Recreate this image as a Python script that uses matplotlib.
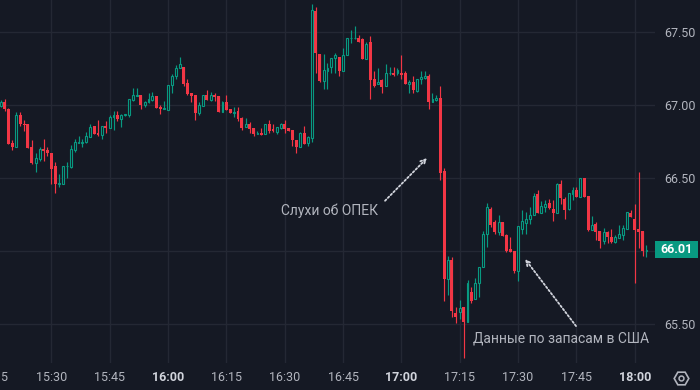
import matplotlib
matplotlib.use('Agg')
import matplotlib.pyplot as plt
import matplotlib.dates as mdates
import matplotlib.transforms as mtransforms
from matplotlib.patches import Rectangle
from matplotlib.lines import Line2D
import numpy as np
import pandas as pd

# ---------------- data (1-minute candles, first one at 15:17) ----------------
day = '2024-03-06'
start_time = day + ' 15:17'

opens = [66.993, 67.018, 66.975, 66.737, 66.714, 66.929, 66.870, 66.868, 66.712, 66.605,
         66.632, 66.698, 66.692, 66.671, 66.582, 66.461, 66.461, 66.579, 66.577, 66.692,
         66.741, 66.741, 66.744, 66.783, 66.856, 66.806, 66.794, 66.856, 66.844, 66.916,
         66.931, 66.906, 66.931, 66.929, 67.036, 67.063, 67.066, 67.002, 67.018, 67.036,
         67.061, 66.986, 66.970, 66.968, 67.135, 67.196, 67.251, 67.260, 67.150, 67.082,
         67.066, 66.947, 66.995, 67.066, 67.036, 67.070, 67.061, 66.954, 67.020, 66.972,
         66.948, 66.957, 66.911, 66.851, 66.870, 66.842, 66.803, 66.810, 66.803, 66.870,
         66.833, 66.817, 66.840, 66.870, 66.844, 66.829, 66.760, 66.714, 66.808, 66.737,
         66.776, 67.644, 67.349, 67.166, 67.233, 67.260, 67.320, 67.329, 67.235, 67.340,
         67.456, 67.456, 67.457, 67.452, 67.315, 67.431, 67.178, 67.146, 67.171, 67.132,
         67.216, 67.219, 67.217, 67.219, 67.219, 67.146, 67.159, 67.098, 67.176, 67.187,
         67.199, 67.022, 67.034, 67.048, 66.548, 65.808, 65.938, 65.573, 65.584, 65.616,
         65.515, 65.719, 65.671, 65.779, 65.892, 66.116, 66.287, 66.198, 66.132, 66.198,
         66.109, 66.011, 66.000, 65.863, 66.148, 66.194, 66.217, 66.244, 66.390, 66.262,
         66.303, 66.327, 66.285, 66.262, 66.461, 66.356, 66.289, 66.392, 66.418, 66.372,
         66.498, 66.376, 66.143, 66.185, 66.137, 66.071, 66.128, 66.094, 66.062, 66.091,
         66.110, 66.153, 66.260, 66.219, 66.150, 66.137, 66.002]
highs = [67.034, 67.039, 66.979, 66.760, 66.952, 66.952, 66.897, 66.870, 66.760, 66.669,
         66.714, 66.767, 66.714, 66.671, 66.609, 66.527, 66.582, 66.607, 66.726, 66.767,
         66.787, 66.765, 66.817, 66.870, 66.856, 66.897, 66.856, 66.890, 66.931, 66.957,
         66.959, 66.936, 66.938, 67.041, 67.116, 67.116, 67.066, 67.029, 67.080, 67.087,
         67.061, 66.999, 67.027, 67.135, 67.212, 67.274, 67.329, 67.260, 67.178, 67.082,
         67.066, 67.022, 67.066, 67.103, 67.089, 67.082, 67.061, 67.027, 67.068, 66.972,
         66.984, 66.984, 66.920, 66.913, 66.883, 66.842, 66.822, 66.844, 66.870, 66.897,
         66.870, 66.849, 66.877, 66.897, 66.844, 66.829, 66.760, 66.815, 66.856, 66.790,
         67.692, 67.671, 67.349, 67.349, 67.285, 67.320, 67.354, 67.329, 67.388, 67.459,
         67.514, 67.541, 67.479, 67.457, 67.433, 67.474, 67.233, 67.251, 67.178, 67.281,
         67.260, 67.260, 67.251, 67.342, 67.233, 67.171, 67.198, 67.178, 67.233, 67.233,
         67.212, 67.080, 67.068, 67.130, 66.568, 65.965, 65.961, 65.614, 65.664, 65.616,
         65.801, 65.755, 65.813, 65.892, 66.137, 66.326, 66.303, 66.212, 66.246, 66.198,
         66.116, 66.094, 66.000, 66.171, 66.281, 66.265, 66.299, 66.399, 66.418, 66.344,
         66.349, 66.356, 66.349, 66.468, 66.486, 66.372, 66.395, 66.440, 66.440, 66.498,
         66.498, 66.376, 66.240, 66.200, 66.137, 66.155, 66.139, 66.151, 66.110, 66.178,
         66.178, 66.267, 66.283, 66.322, 66.541, 66.137, 66.041]
lows = [66.988, 66.959, 66.733, 66.692, 66.714, 66.856, 66.824, 66.705, 66.596, 66.543,
        66.618, 66.618, 66.650, 66.459, 66.395, 66.440, 66.457, 66.502, 66.570, 66.680,
        66.737, 66.714, 66.737, 66.783, 66.803, 66.787, 66.769, 66.810, 66.844, 66.831,
        66.892, 66.849, 66.924, 66.916, 67.029, 67.061, 66.974, 66.988, 67.011, 67.029,
        66.981, 66.940, 66.970, 66.968, 67.084, 67.178, 67.251, 67.132, 67.070, 67.022,
        66.897, 66.931, 66.995, 67.036, 67.029, 67.029, 66.954, 66.954, 66.966, 66.947,
        66.920, 66.892, 66.829, 66.847, 66.806, 66.787, 66.801, 66.796, 66.803, 66.810,
        66.815, 66.801, 66.833, 66.810, 66.824, 66.719, 66.673, 66.714, 66.735, 66.721,
        66.748, 67.221, 67.159, 67.109, 67.109, 67.221, 67.221, 67.198, 67.235, 67.340,
        67.422, 67.454, 67.433, 67.315, 67.315, 67.041, 67.121, 67.142, 67.082, 67.132,
        67.205, 67.198, 67.205, 67.178, 67.142, 67.084, 67.080, 67.089, 67.142, 67.178,
        66.974, 67.022, 67.029, 66.488, 65.659, 65.698, 65.550, 65.509, 65.534, 65.269,
        65.515, 65.641, 65.671, 65.687, 65.892, 66.029, 66.166, 66.116, 66.109, 66.103,
        65.995, 65.995, 65.847, 65.796, 66.116, 66.116, 66.185, 66.244, 66.258, 66.262,
        66.269, 66.285, 66.207, 66.262, 66.322, 66.219, 66.281, 66.349, 66.372, 66.372,
        66.372, 66.137, 66.143, 66.075, 66.023, 66.046, 66.052, 66.057, 66.057, 66.087,
        66.075, 66.153, 66.233, 65.783, 66.023, 65.966, 65.958]
closes = [67.022, 66.970, 66.735, 66.714, 66.929, 66.868, 66.863, 66.707, 66.602, 66.635,
          66.698, 66.687, 66.673, 66.563, 66.461, 66.466, 66.582, 66.582, 66.698, 66.744,
          66.744, 66.744, 66.787, 66.849, 66.803, 66.794, 66.856, 66.844, 66.918, 66.931,
          66.904, 66.929, 66.936, 67.041, 67.066, 67.066, 66.999, 67.020, 67.041, 67.059,
          66.981, 66.970, 66.972, 67.135, 67.196, 67.253, 67.279, 67.146, 67.077, 67.061,
          66.947, 66.998, 67.066, 67.036, 67.066, 67.057, 66.954, 67.020, 66.966, 66.947,
          66.952, 66.906, 66.844, 66.868, 66.837, 66.803, 66.806, 66.796, 66.870, 66.822,
          66.820, 66.849, 66.870, 66.837, 66.824, 66.758, 66.712, 66.806, 66.735, 66.783,
          67.648, 67.358, 67.166, 67.237, 67.255, 67.320, 67.342, 67.235, 67.342, 67.459,
          67.459, 67.459, 67.433, 67.315, 67.420, 67.171, 67.128, 67.157, 67.123, 67.219,
          67.219, 67.207, 67.240, 67.207, 67.146, 67.159, 67.103, 67.178, 67.192, 67.196,
          67.022, 67.041, 67.048, 66.534, 65.808, 65.938, 65.589, 65.550, 65.609, 65.515,
          65.781, 65.659, 65.781, 65.892, 66.116, 66.301, 66.180, 66.132, 66.198, 66.105,
          66.002, 65.995, 65.863, 66.171, 66.205, 66.217, 66.244, 66.376, 66.262, 66.308,
          66.322, 66.296, 66.262, 66.461, 66.365, 66.281, 66.395, 66.418, 66.372, 66.498,
          66.372, 66.143, 66.176, 66.130, 66.071, 66.128, 66.094, 66.062, 66.094, 66.116,
          66.155, 66.267, 66.233, 66.143, 66.132, 66.002, 66.010]

tick_times = ['15:30', '15:45', '16:00', '16:15', '16:30', '16:45',
              '17:00', '17:15', '17:30', '17:45', '18:00']
edge_tick = '15:15'
y_ticks = [65.5, 66.0, 66.5, 67.0, 67.5]
y_tick_labels = ['65.50', '', '66.50', '67.00', '67.50']
last_price_label = '66.01'

note1_text = 'Слухи об ОПЕК'
note2_text = 'Данные по запасам в США'

# ---------------- style ----------------
BG = '#151924'
GRID = '#242834'
UP = '#089981'
DOWN = '#F23645'
TXT = '#b2b5be'
TXT_HI = '#d1d4dc'

plt.rcParams['font.family'] = ['Roboto', 'DejaVu Sans']

fig = plt.figure(figsize=(7, 3.9), dpi=100, facecolor=BG)
ax = fig.add_axes([0, 27 / 390, 655 / 700, 363 / 390], facecolor=BG)

times = pd.date_range(start_time, periods=len(opens), freq='min')
x = mdates.date2num(times)
o = np.array(opens)
h = np.array(highs)
l = np.array(lows)
c = np.array(closes)
up = c >= o

minute = 1.0 / 1440.0
wick_colors = np.where(up, UP, DOWN)
ax.vlines(x, l, h, colors=wick_colors, lw=0.85, zorder=2)

body_bottom = np.minimum(o, c)
body_h = np.maximum(np.abs(c - o), 0.006)
ax.bar(x[~up], body_h[~up], bottom=body_bottom[~up], width=0.75 * minute,
       color=DOWN, lw=0, zorder=3)
ax.bar(x[up], body_h[up], bottom=body_bottom[up], width=0.48 * minute,
       facecolor=BG, edgecolor=UP, lw=0.8, zorder=3)

# axes limits
ax.set_xlim(mdates.date2num(pd.Timestamp(day + ' 15:16:49')),
            mdates.date2num(pd.Timestamp(day + ' 18:05:12')))
ax.set_ylim(65.233, 67.719)

# ticks / grid
tick_pos = [mdates.date2num(pd.Timestamp(day + ' ' + t)) for t in tick_times]
ax.set_xticks(tick_pos)
ax.set_xticklabels(tick_times)
ax.yaxis.tick_right()
ax.set_yticks(y_ticks)
ax.set_yticklabels(y_tick_labels)
ax.tick_params(axis='x', length=0, pad=6, labelcolor=TXT, labelsize=9)
ax.tick_params(axis='y', length=0, pad=7, labelcolor=TXT, labelsize=9)
for lbl in ax.get_xticklabels():
    if lbl.get_text().endswith(':00'):
        lbl.set_fontweight('bold')
        lbl.set_color(TXT_HI)
ax.grid(True, color=GRID, lw=1, zorder=0)
ax.set_axisbelow(True)
for s in ax.spines.values():
    s.set_visible(False)

# cut-off label at the left edge
ax.annotate(edge_tick, xy=(mdates.date2num(pd.Timestamp(day + ' ' + edge_tick)), 0),
            xycoords=('data', 'axes fraction'), xytext=(0, -6), textcoords='offset points',
            ha='center', va='top', color=TXT, fontsize=9, annotation_clip=False)

# last price box
blend = mtransforms.blended_transform_factory(ax.transAxes, ax.transData)
last_close = closes[-1]
ax.add_patch(Rectangle((1.0, last_close - 0.057), 43 / 655, 0.114, transform=blend,
                       facecolor=UP, edgecolor='none', clip_on=False, zorder=6))
ax.text(1.0 + 21.5 / 655, last_close, last_price_label, transform=blend,
        ha='center', va='center', color='white', fontsize=9, fontweight='bold',
        clip_on=False, zorder=7)

# annotations
def t2n(s):
    return mdates.date2num(pd.Timestamp(day + ' ' + s))

arrow_kw = dict(arrowstyle='->', color=TXT_HI, lw=1.3, linestyle=(0, (1, 1.2)),
                shrinkA=0, shrinkB=0, mutation_scale=9)
ax.annotate('', xy=(t2n('17:06:36'), 66.637), xytext=(t2n('16:55:48'), 66.344),
            arrowprops=arrow_kw, zorder=5)
ax.text(t2n('16:41:36'), 66.277, note1_text, ha='center', va='center',
        color=TXT, fontsize=10, zorder=5)
ax.annotate('', xy=(t2n('17:31:48'), 65.945), xytext=(t2n('17:44:54'), 65.486),
            arrowprops=arrow_kw, zorder=5)
ax.text(t2n('17:41:00'), 65.400, note2_text, ha='center', va='center',
        color=TXT, fontsize=10, zorder=5)

# settings gear icon (bottom right)
fig.add_artist(Line2D([680.7 / 700], [1 - 378 / 390], marker='H', ms=10.5,
                      mfc='none', mec=TXT, mew=1.2, transform=fig.transFigure))
fig.add_artist(Line2D([680.7 / 700], [1 - 378 / 390], marker='o', ms=3.5,
                      mfc='none', mec=TXT, mew=1.1, transform=fig.transFigure))

fig.savefig('out.png', dpi=100, facecolor=BG)
